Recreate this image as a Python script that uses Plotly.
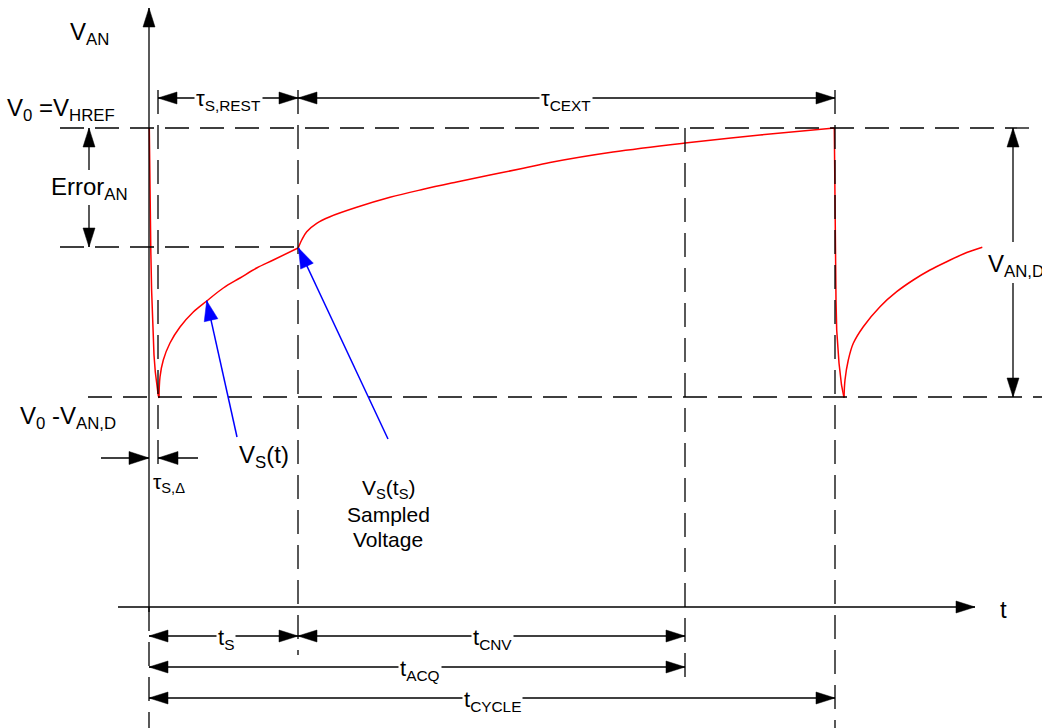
import math
import plotly.graph_objects as go

W, H = 1042, 728

# ---- key instants along the time axis (picture x positions) ----
t_zero = 149      # start of sampling (vertical axis)
t_delta = 158     # end of tau_S,delta (minimum of the dip)
t_s = 298         # end of sampling time t_S
t_acq = 685       # end of t_ACQ
t_cycle = 835     # end of t_CYCLE
# ---- key voltage levels (picture y positions, downward) ----
v_href = 128
v_sampled = 247
v_low = 397
axis_y = 607

# ---- V_AN waveform ----
drop1_x = [149.3, 149.5, 149.9, 150.4, 150.8, 151.6, 152.7, 154.0, 155.3, 156.8, 158.2, 159.0]
drop1_y = [128, 160, 200, 230, 250, 290, 330, 355, 372, 386, 395, 398]
rise1_x = [159.0, 160.0, 163.3, 170.0, 180.0, 193.3, 206.7, 223.3, 240.0, 256.7, 273.3, 298.0]
rise1_y = [398, 377, 360, 343, 327, 312, 301, 288, 278, 268, 260, 248]
rise2_x = [298.3, 301.7, 306.7, 316.7, 330, 356.7, 390, 423.3, 456.7, 490, 523.3, 550, 613, 685, 760, 834.5]
rise2_y = [247.7, 240, 231.7, 223.3, 216.7, 207.3, 197.3, 189.3, 182, 175, 168.3, 162.5, 152, 143, 135, 128]
drop2_x = [834.3, 834.6, 835.0, 835.5, 836.0, 836.7, 839.0, 841.5, 844.0]
drop2_y = [128, 170, 215, 260, 300, 330, 363, 385, 397.7]
rise3_x = [844.0, 845.0, 848.3, 853.3, 863.3, 880, 896.7, 913.3, 930, 946.7, 963.3, 982.3]
rise3_y = [397.7, 380, 360, 343.3, 326.7, 306.7, 291.7, 280, 270, 261.7, 254, 247.3]

FONT = "Arial, Liberation Sans, sans-serif"
DASH = "24px,11px"
shapes = []
annotations = []


def line(x0, y0, x1, y1, color="black", width=1.3, dash=None):
    d = dict(type="line", xref="x", yref="y", x0=x0, y0=y0, x1=x1, y1=y1,
             line=dict(color=color, width=width))
    if dash:
        d["line"]["dash"] = dash
    shapes.append(d)


def head(xt, yt, xf, yf, L=19, Wd=12, color="black"):
    dx, dy = xt - xf, yt - yf
    n = math.hypot(dx, dy)
    ux, uy = dx / n, dy / n
    bx, by = xt - L * ux, yt - L * uy
    px, py = -uy * Wd / 2, ux * Wd / 2
    path = f"M {xt},{yt} L {bx+px},{by+py} L {bx-px},{by-py} Z"
    shapes.append(dict(type="path", xref="x", yref="y", path=path,
                       fillcolor=color, line=dict(color=color, width=0.5)))


def arrow(x0, y0, x1, y1, color="black", width=1.3, L=19, Wd=12):
    line(x0, y0, x1, y1, color=color, width=width)
    head(x1, y1, x0, y0, L=L, Wd=Wd, color=color)


def dim(xa, xb, y):
    line(xa, y, xb, y)
    head(xa, y, xb, y, L=19, Wd=12)
    head(xb, y, xa, y, L=19, Wd=12)


def text(x, y, s, size=24, xanchor="center", yanchor="middle", bg=None):
    a = dict(x=x, y=y, xref="x", yref="y", text=s, showarrow=False,
             xanchor=xanchor, yanchor=yanchor,
             font=dict(family=FONT, size=size, color="black"))
    if bg:
        a["bgcolor"] = bg
        a["borderpad"] = 1
    annotations.append(a)


# ---- dashed guide lines ----
line(60, v_href, 1040, v_href, dash=DASH)
line(60, v_sampled, t_s, v_sampled, dash=DASH)
line(88, v_low, 1042, v_low, dash=DASH)
line(t_delta, 90, t_delta, 467, dash=DASH)
line(t_s, 90, t_s, 655, dash=DASH)
line(t_acq, v_href, t_acq, 688, dash=DASH)
line(t_cycle, 90, t_cycle, 728, dash=DASH)
line(t_zero, axis_y, t_zero, 728, dash=DASH)

# ---- axes ----
arrow(t_zero, axis_y + 5, t_zero, 8, L=19, Wd=12)
arrow(118, axis_y, 975, axis_y, L=19, Wd=12)

# ---- dimension arrows at the top ----
dim(t_delta, t_s, 98)
dim(t_s, t_cycle, 98)
text(228, 100, "τ<sub>S,REST</sub>", size=22, bg="white")
text(566, 100, "τ<sub>CEXT</sub>", size=22, bg="white")

# ---- Error_AN ----
arrow(89, 170, 89, v_href)
arrow(89, 205, 89, v_sampled)
text(89, 188, "Error<sub>AN</sub>", size=24)

# ---- V_AN,D ----
arrow(1013, 242, 1013, v_href)
arrow(1013, 283, 1013, v_low)
text(986, 265, "V<sub>AN,D</sub>", size=24, xanchor="left")

# ---- tau_S,delta ----
arrow(101, 458, t_zero, 458, L=20, Wd=13)
arrow(198, 458, t_delta, 458, L=20, Wd=13)
text(169, 483, "τ<sub>S,Δ</sub>", size=21)

# ---- bottom dimension arrows ----
dim(t_zero, t_s, 636)
dim(t_s, t_acq, 636)
dim(t_zero, t_acq, 667)
dim(t_zero, t_cycle, 698)
text(226, 639, "t<sub>S</sub>", size=22, bg="white")
text(492, 639, "t<sub>CNV</sub>", size=22, bg="white")
text(420, 670, "t<sub>ACQ</sub>", size=22, bg="white")
text(492, 701, "t<sub>CYCLE</sub>", size=22, bg="white")

# ---- blue pointer arrows ----
arrow(237, 437, 206.7, 300.7, color="#0000FF", width=1.5, L=20, Wd=14)
arrow(388, 439, 298.5, 248, color="#0000FF", width=1.5, L=20, Wd=14)
text(264, 456, "V<sub>S</sub>(t)", size=24)
text(388, 489, "V<sub>S</sub>(t<sub>S</sub>)", size=21)
text(388, 514, "Sampled", size=21)
text(388, 539, "Voltage", size=21)

# ---- axis & level labels ----
text(89, 33, "V<sub>AN</sub>", size=24)
text(61, 109, "V<sub>0</sub> =V<sub>HREF</sub>", size=24)
text(68, 417, "V<sub>0</sub> -V<sub>AN,D</sub>", size=24)
text(998, 609, "t", size=24, xanchor="left")

fig = go.Figure()
for xs, ys, shp in [(drop1_x, drop1_y, "linear"), (rise1_x, rise1_y, "spline"),
                    (rise2_x, rise2_y, "spline"), (drop2_x, drop2_y, "linear"),
                    (rise3_x, rise3_y, "spline")]:
    fig.add_trace(go.Scatter(x=xs, y=ys, mode="lines", hoverinfo="skip",
                             line=dict(color="#FF0000", width=1.5, shape=shp)))

fig.update_layout(
    width=W, height=H, margin=dict(l=0, r=0, t=0, b=0),
    paper_bgcolor="white", plot_bgcolor="white", showlegend=False,
    xaxis=dict(range=[0, W], visible=False, fixedrange=True),
    yaxis=dict(range=[H, 0], visible=False, fixedrange=True),
    shapes=shapes, annotations=annotations,
)
fig.write_html("out.html")
